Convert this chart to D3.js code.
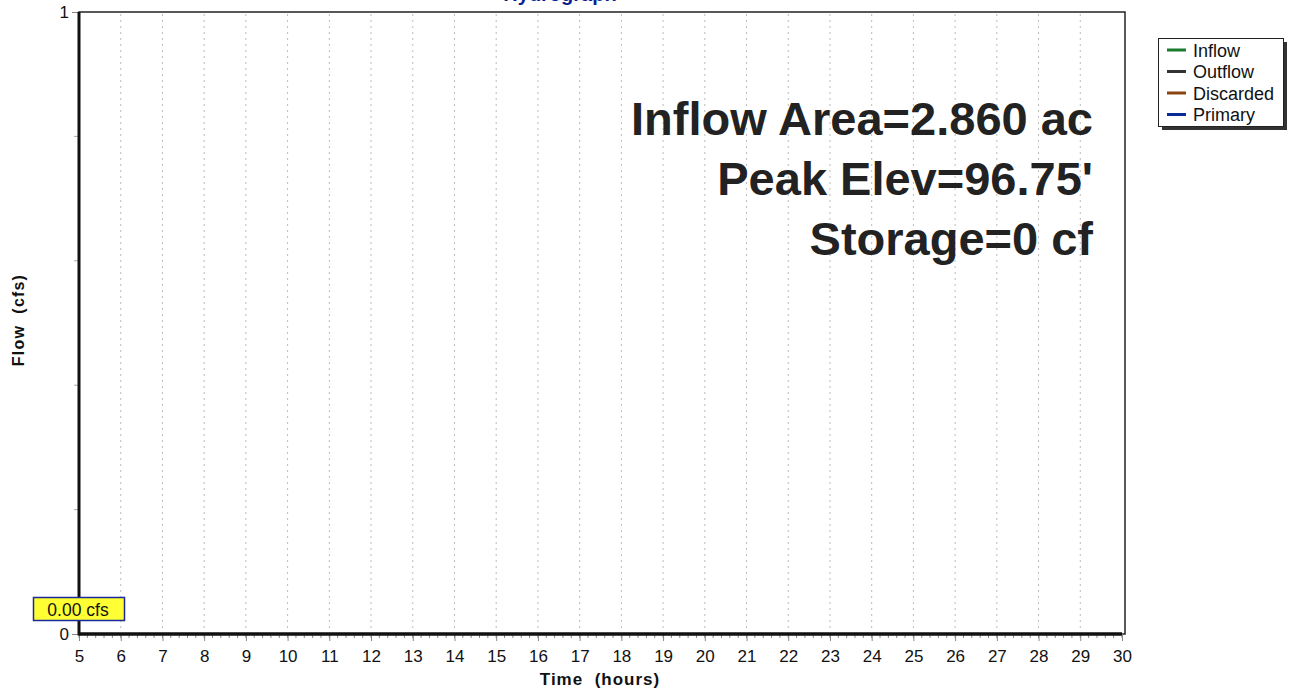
<!DOCTYPE html>
<html><head><meta charset="utf-8">
<script src="https://cdn.jsdelivr.net/npm/d3@7"></script>
<style>body{margin:0;background:#fff}svg{display:block}text{font-family:"Liberation Sans",Arial,sans-serif;white-space:pre}</style>
</head><body>
<svg id="c" width="1289" height="691"></svg>
<script>
// Data
const xDomain = [5, 30];
const yDomain = [0, 1];
const xTicks = [5,6,7,8,9,10,11,12,13,14,15,16,17,18,19,20,21,22,23,24,25,26,27,28,29,30];
const yTickLabels = [0, 1];
const yMinorTicks = [0.2, 0.4, 0.6, 0.8];
const seriesNames = ["Inflow", "Outflow", "Discarded", "Primary"];
const seriesColors = ["#1a7a2e", "#333333", "#8b4513", "#0a2a9a"];
const timeValues = [5, 30];
const flowValues = [0, 0];
const annotations = ["Inflow Area=2.860 ac", "Peak Elev=96.75'", "Storage=0 cf"];
const peakLabel = "0.00 cfs";
const title = "Hydrograph";

const svg = d3.select("#c");
const L = 79, R = 1122, T = 12, B = 634;
const FF = '"Liberation Sans",Arial,sans-serif';
const x = d3.scaleLinear().domain(xDomain).range([L, R]);
const y = d3.scaleLinear().domain(yDomain).range([B, T]);

// title (cut off at top, as in the source image)
svg.append("text").attr("x", 560).attr("y", 1).attr("text-anchor","middle")
  .attr("font-size", 20).attr("font-weight","bold").attr("fill","#0a1f8f").text(title);

// plot frame
svg.append("rect").attr("x", L).attr("y", T).attr("width", R - L + 3).attr("height", B - T)
  .attr("fill","#fff").attr("stroke","#222").attr("stroke-width",1.5);

// vertical grid
svg.append("g").selectAll("line").data(xTicks.slice(1, -1)).join("line")
  .attr("x1", d => x(d)).attr("x2", d => x(d)).attr("y1", T + 2).attr("y2", B - 2)
  .attr("stroke","#bbb").attr("stroke-width",1).attr("stroke-dasharray","2,4");

// x axis
const xMinor = d3.range(xDomain[0] * 5, xDomain[1] * 5 + 1).map(d => d / 5);
svg.append("g").selectAll("line").data(xMinor).join("line")
  .attr("x1", d => x(d)).attr("x2", d => x(d)).attr("y1", B).attr("y2", B + 4)
  .attr("stroke","#888").attr("stroke-width",1);
const xAxis = svg.append("g").attr("transform", `translate(0,${B})`)
  .call(d3.axisBottom(x).tickValues(xTicks).tickFormat(d3.format("d")).tickSize(7).tickPadding(9));
xAxis.select(".domain").remove();
xAxis.selectAll(".tick line").attr("stroke","#888");
xAxis.selectAll("text").attr("font-size",17).attr("fill","#111").style("font-family",FF);

// y axis
const yAxis = svg.append("g").attr("transform", `translate(${L},0)`)
  .call(d3.axisLeft(y).tickValues(yTickLabels).tickFormat(d3.format("d")).tickSize(7).tickPadding(3));
yAxis.select(".domain").remove();
yAxis.selectAll(".tick line").attr("stroke","#888");
yAxis.selectAll("text").attr("font-size",17).attr("fill","#111").style("font-family",FF);
svg.append("g").selectAll("line").data(yMinorTicks).join("line")
  .attr("x1", L - 5).attr("x2", L).attr("y1", d => y(d)).attr("y2", d => y(d))
  .attr("stroke","#aaa");

// thick axis line
svg.append("line").attr("x1", L).attr("x2", L).attr("y1", T).attr("y2", B + 1.5)
  .attr("stroke","#111").attr("stroke-width",3);

// flow series (zero)
const line = d3.line().x((d, i) => x(timeValues[i])).y(d => y(d));
svg.append("path").datum(flowValues).attr("d", line)
  .attr("fill","none").attr("stroke","#111").attr("stroke-width",3.5);

// axis titles
svg.append("text").attr("x", 600).attr("y", 685).attr("text-anchor","middle")
  .attr("font-size",17).attr("font-weight","bold").attr("letter-spacing",1).attr("fill","#111").text("Time  (hours)");
svg.append("text").attr("transform","translate(24,320) rotate(-90)").attr("text-anchor","middle")
  .attr("font-size",16).attr("font-weight","bold").attr("letter-spacing",1.2).attr("fill","#111").text("Flow  (cfs)");

// annotations
svg.append("g").selectAll("text").data(annotations).join("text")
  .attr("x", 1093).attr("y", (d, i) => 135 + i * 60).attr("text-anchor","end")
  .attr("font-size",47).attr("font-weight","bold").attr("fill","#222").text(d => d);

// peak label
const pl = svg.append("g");
pl.append("rect").attr("x", 33.5).attr("y", 597.5).attr("width", 91).attr("height", 23)
  .attr("fill","#ffff33").attr("stroke","#1a2a9a").attr("stroke-width",1.5);
pl.append("text").attr("x", 78).attr("y", 615.5).attr("text-anchor","middle")
  .attr("font-size",17.5).attr("fill","#111").text(peakLabel);

// legend
const lg = svg.append("g");
lg.append("rect").attr("x", 1162).attr("y", 42).attr("width", 125).attr("height", 88).attr("fill","#333");
lg.append("rect").attr("x", 1158.5).attr("y", 38.5).attr("width", 125).attr("height", 88)
  .attr("fill","#fff").attr("stroke","#222").attr("stroke-width",1);
const items = lg.selectAll("g.it").data(seriesNames).join("g").attr("class","it")
  .attr("transform", (d, i) => `translate(0,${50 + i * 21.5})`);
items.append("line").attr("x1", 1167).attr("x2", 1186).attr("y1", 0).attr("y2", 0)
  .attr("stroke", (d, i) => seriesColors[i]).attr("stroke-width",3);
items.append("text").attr("x", 1193).attr("y", 6.5).attr("font-size",18).attr("fill","#111").text(d => d);
</script>
</body></html>
